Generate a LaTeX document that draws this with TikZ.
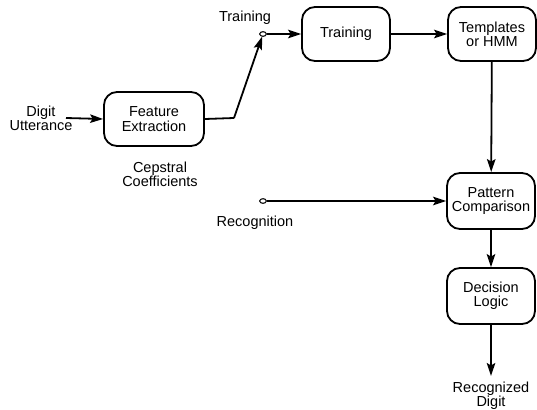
\documentclass[tikz,border=0pt]{standalone}
\usepackage{fontspec}
\setmainfont{Liberation Sans}
\usetikzlibrary{arrows.meta,shapes.geometric}
\begin{document}
\begin{tikzpicture}[x=1pt,y=-1pt,
  blk/.style={draw,line width=1.8pt,rounded corners=13pt,align=center,inner sep=0pt},
  lbl/.style={align=center,inner sep=0pt},
  conn/.style={line width=1.8pt,-{Stealth[length=13pt,width=8.5pt,inset=2.5pt]}},
  line/.style={line width=1.8pt},
  sw/.style={draw,line width=0.9pt,ellipse,minimum width=6.5pt,minimum height=4.5pt,inner sep=0pt,fill=white},
  font=\fontsize{14.5}{14.3}\selectfont]
\useasboundingbox (0,0) rectangle (537,409);
\node[blk,minimum width=100pt,minimum height=54pt] (fe) at (154,119) {Feature\\Extraction};
\node[blk,minimum width=88pt,minimum height=54pt] (tr) at (346,34) {Training};
\node[blk,minimum width=88pt,minimum height=54pt] (tm) at (492,34) {Templates\\or HMM};
\node[blk,minimum width=88pt,minimum height=56pt] (pc) at (491,201) {Pattern\\Comparison};
\node[blk,minimum width=88pt,minimum height=56pt] (dl) at (491,296) {Decision\\Logic};
\node[lbl] (du) at (41,118) {Digit\\Utterance};
\node[lbl] (cc) at (160,174) {Cepstral\\Coefficients};
\node[lbl] (tl) at (245,18) {Training};
\node[lbl] (rl) at (255,223) {Recognition};
\node[lbl] (rd) at (491,396) {Recognized\\Digit};
\node[sw] (s1) at (263,34) {};
\node[sw] (s2) at (263,201) {};
\coordinate (bend) at (234,118);
\coordinate (duend) at (66,118);
\coordinate (rdtop) at (491,376);
\draw[conn] (duend) -- (fe.west);
\draw[line] (fe.east) -- (bend);
\draw[conn] (bend) -- (s1);
\draw[conn] (s1) -- (tr);
\draw[conn] (tr) -- (tm);
\draw[conn] (tm) -- (pc);
\draw[conn] (s2) -- (pc);
\draw[conn] (pc) -- (dl);
\draw[conn] (dl) -- (rdtop);
\node[sw] at (s1) {};
\node[sw] at (s2) {};
\end{tikzpicture}
\end{document}
